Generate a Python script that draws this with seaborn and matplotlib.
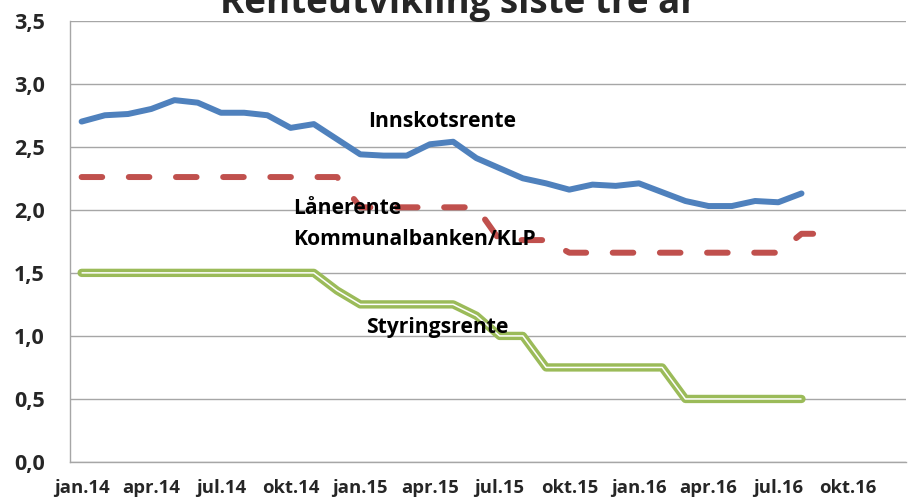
import numpy as np
import pandas as pd
import matplotlib
matplotlib.use("Agg")
import matplotlib.pyplot as plt
import seaborn as sns

# månadstal jan.14 - aug.16
maaned = pd.period_range("2014-01", "2016-08", freq="M")

innskotsrente = [2.70, 2.75, 2.76, 2.80, 2.87, 2.85, 2.77, 2.77, 2.75, 2.65, 2.68, 2.56,
                 2.44, 2.43, 2.43, 2.52, 2.54, 2.41, 2.33, 2.25, 2.21, 2.16, 2.20, 2.19,
                 2.21, 2.14, 2.07, 2.03, 2.03, 2.07, 2.06, 2.13]
laanerente = [2.26, 2.26, 2.26, 2.26, 2.26, 2.26, 2.26, 2.26, 2.26, 2.26, 2.26, 2.26,
              2.02, 2.02, 2.02, 2.02, 2.02, 2.02, 1.76, 1.76, 1.76, 1.66, 1.66, 1.66,
              1.66, 1.66, 1.66, 1.66, 1.66, 1.66, 1.66, 1.81]
laanerente_slutt = 1.81  # siste notering, ved utgangen av aug.16
styringsrente = [1.50, 1.50, 1.50, 1.50, 1.50, 1.50, 1.50, 1.50, 1.50, 1.50, 1.50, 1.36,
                 1.25, 1.25, 1.25, 1.25, 1.25, 1.16, 1.00, 1.00, 0.75, 0.75, 0.75, 0.75,
                 0.75, 0.75, 0.50, 0.50, 0.50, 0.50, 0.50, 0.50]

kvartal_labels = ["jan.14", "apr.14", "jul.14", "okt.14", "jan.15", "apr.15",
                  "jul.15", "okt.15", "jan.16", "apr.16", "jul.16", "okt.16"]

BLUE = "#4F81BD"
RED = "#C0504D"
GREEN = "#9BBB59"
GRID = "#A6A6A6"

# x i månader frå 1. jan 2014, punkta midt i månaden
x = [(p.year - 2014) * 12 + p.month - 1 + 0.5 for p in maaned]
df = pd.DataFrame({"x": x, "innskot": innskotsrente, "laan": laanerente, "styring": styringsrente})
df_laan = pd.concat([df[["x", "laan"]],
                     pd.DataFrame({"x": [len(maaned)], "laan": [laanerente_slutt]})],
                    ignore_index=True)

sns.set_theme(style="white")
plt.rcParams["font.family"] = ["Open Sans", "DejaVu Sans"]

fig = plt.figure(figsize=(9.12, 5.0), dpi=100)
ax = fig.add_axes([70 / 912, 38 / 500, 836 / 912, 441.3 / 500])

sns.lineplot(data=df, x="x", y="innskot", color=BLUE, lw=4.3, ax=ax,
             solid_capstyle="round", solid_joinstyle="round")
sns.lineplot(data=df_laan, x="x", y="laan", color=RED, lw=4.3, ax=ax,
             linestyle=(0, (3.45, 4.45)))
ax.lines[-1].set_dash_capstyle("round")
sns.lineplot(data=df, x="x", y="styring", color=GREEN, lw=6.0, ax=ax,
             solid_capstyle="round", solid_joinstyle="round")
sns.lineplot(data=df, x="x", y="styring", color="white", lw=1.1, ax=ax,
             solid_capstyle="butt")

ax.set_xlim(0, 36)
ax.set_ylim(0, 3.5)
ax.set_xlabel("")
ax.set_ylabel("")

yt = np.arange(0, 3.51, 0.5)
ax.set_yticks(yt)
ax.set_yticklabels([f"{v:.1f}".replace(".", ",") for v in yt], fontsize=15.5, fontweight="bold")
ax.set_xticks(np.arange(0, 37, 3))
ax.set_xticklabels([])
ax.set_xticks(np.arange(0.5, 36, 3), minor=True)
ax.set_xticklabels(kvartal_labels, minor=True, fontsize=13.3, fontweight="bold")

ax.tick_params(axis="y", which="major", direction="out", length=6, width=1, color=GRID, pad=12)
ax.tick_params(axis="x", which="major", direction="out", length=4.5, width=1, color=GRID)
ax.tick_params(axis="x", which="minor", length=0, pad=12)

ax.yaxis.grid(True, color=GRID, lw=1)
ax.set_axisbelow(True)
for s in ["top", "right"]:
    ax.spines[s].set_visible(False)
for s in ["left", "bottom"]:
    ax.spines[s].set_color(GRID)
    ax.spines[s].set_linewidth(1)

txt = dict(fontsize=15.2, fontweight="bold", color="black", ha="left", va="baseline")
ax.text(12.83, 2.654, "Innskotsrente", **txt)
ax.text(9.6, 1.967, "Lånerente", **txt)
ax.text(9.6, 1.72, "Kommunalbanken/KLP", **txt)
ax.text(12.77, 1.025, "Styringsrente", **txt)

fig.text(459 / 912, 1 - 13 / 500, "Renteutvikling siste tre år", ha="center", va="baseline",
         fontsize=26.5, fontweight="bold")

fig.savefig("out.png", dpi=100)
